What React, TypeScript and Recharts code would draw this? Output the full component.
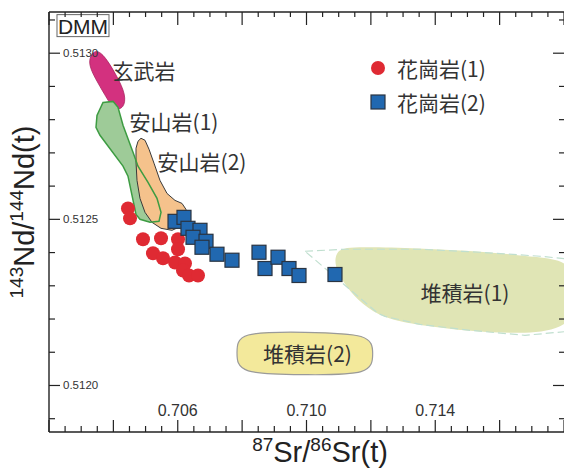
import React from 'react';
import { ScatterChart, Scatter, XAxis, YAxis, Legend } from 'recharts';

const xDomain: [number, number] = [0.702, 0.718];
const yDomain: [number, number] = [0.51186, 0.513124];

const xTicks = [0.702, 0.7025, 0.703, 0.7035, 0.704, 0.7045, 0.705, 0.7055, 0.706, 0.7065, 0.707, 0.7075, 0.708, 0.7085, 0.709, 0.7095, 0.71, 0.7105, 0.711, 0.7115, 0.712, 0.7125, 0.713, 0.7135, 0.714, 0.7145, 0.715, 0.7155, 0.716, 0.7165, 0.717, 0.7175, 0.718];
const xMajorTicks = [0.702, 0.704, 0.706, 0.708, 0.71, 0.712, 0.714, 0.716, 0.718];
const xTickLabels = ['0.706', '0.710', '0.714'];
const yTicks = [0.5119, 0.512, 0.5121, 0.5122, 0.5123, 0.5124, 0.5125, 0.5126, 0.5127, 0.5128, 0.5129, 0.513, 0.5131];
const yTickLabels = ['0.5120', '0.5125', '0.5130'];

// 花崗岩(1)
const granite1 = [
  { x: 0.704454, y: 0.512533 },
  { x: 0.704517, y: 0.512503 },
  { x: 0.70492, y: 0.51244 },
  { x: 0.70548, y: 0.512443 },
  { x: 0.706008, y: 0.51244 },
  { x: 0.706008, y: 0.51241 },
  { x: 0.705231, y: 0.512398 },
  { x: 0.705542, y: 0.512383 },
  { x: 0.705915, y: 0.51237 },
  { x: 0.706225, y: 0.512367 },
  { x: 0.706163, y: 0.512346 },
  { x: 0.70635, y: 0.512331 },
  { x: 0.706629, y: 0.512331 },
];

// 花崗岩(2)
const granite2 = [
  { x: 0.705915, y: 0.512494 },
  { x: 0.706194, y: 0.512506 },
  { x: 0.706318, y: 0.512473 },
  { x: 0.706691, y: 0.512467 },
  { x: 0.706474, y: 0.512446 },
  { x: 0.706878, y: 0.512434 },
  { x: 0.706753, y: 0.512416 },
  { x: 0.707219, y: 0.512395 },
  { x: 0.707685, y: 0.512377 },
  { x: 0.708524, y: 0.512401 },
  { x: 0.708711, y: 0.512352 },
  { x: 0.709115, y: 0.512386 },
  { x: 0.709456, y: 0.512352 },
  { x: 0.709767, y: 0.512331 },
  { x: 0.710885, y: 0.512334 },
];

// 玄武岩 field
const basaltField = [
  { x: 0.703274, y: 0.512991 },
  { x: 0.703460, y: 0.513012 },
  { x: 0.703740, y: 0.512991 },
  { x: 0.704113, y: 0.512931 },
  { x: 0.704392, y: 0.512874 },
  { x: 0.704330, y: 0.512834 },
  { x: 0.704019, y: 0.512828 },
  { x: 0.703740, y: 0.512874 },
  { x: 0.703429, y: 0.512925 },
  { x: 0.703243, y: 0.512964 },
];

// 安山岩(1) field
const andesite1Field = [
  { x: 0.703678, y: 0.512852 },
  { x: 0.703988, y: 0.512855 },
  { x: 0.704144, y: 0.512837 },
  { x: 0.704299, y: 0.512783 },
  { x: 0.70461, y: 0.512702 },
  { x: 0.704765, y: 0.51266 },
  { x: 0.705076, y: 0.512611 },
  { x: 0.705355, y: 0.512563 },
  { x: 0.70548, y: 0.512521 },
  { x: 0.705417, y: 0.512494 },
  { x: 0.705138, y: 0.512491 },
  { x: 0.704827, y: 0.5125 },
  { x: 0.704703, y: 0.512515 },
  { x: 0.704579, y: 0.512572 },
  { x: 0.704454, y: 0.51263 },
  { x: 0.704299, y: 0.51266 },
  { x: 0.703584, y: 0.512753 },
  { x: 0.70346, y: 0.512777 },
  { x: 0.703491, y: 0.512813 },
];

// 安山岩(2) field
const andesite2Field = [
  { x: 0.704858, y: 0.512744 },
  { x: 0.704983, y: 0.512738 },
  { x: 0.705107, y: 0.512711 },
  { x: 0.705262, y: 0.512669 },
  { x: 0.705449, y: 0.512617 },
  { x: 0.705666, y: 0.512578 },
  { x: 0.705915, y: 0.512557 },
  { x: 0.706132, y: 0.512548 },
  { x: 0.706256, y: 0.51253 },
  { x: 0.706256, y: 0.512503 },
  { x: 0.706101, y: 0.512479 },
  { x: 0.705821, y: 0.512467 },
  { x: 0.70548, y: 0.512473 },
  { x: 0.7052, y: 0.512491 },
  { x: 0.704983, y: 0.512521 },
  { x: 0.704827, y: 0.512563 },
  { x: 0.704734, y: 0.512617 },
  { x: 0.704703, y: 0.512672 },
  { x: 0.704703, y: 0.512714 },
  { x: 0.704765, y: 0.512735 },
];

// 堆積岩(1) field (fill) and its dashed outline
const sediment1Field = [
  { x: 0.710917, y: 0.512407 },
  { x: 0.711352, y: 0.512419 },
  { x: 0.713526, y: 0.512413 },
  { x: 0.71539, y: 0.512404 },
  { x: 0.717254, y: 0.512386 },
  { x: 0.718497, y: 0.51237 },
  { x: 0.718497, y: 0.512175 },
  { x: 0.716788, y: 0.512154 },
  { x: 0.71508, y: 0.512163 },
  { x: 0.713526, y: 0.512181 },
  { x: 0.712408, y: 0.512202 },
  { x: 0.711724, y: 0.512244 },
  { x: 0.711227, y: 0.512298 },
  { x: 0.710854, y: 0.512358 },
];
const sediment1Outline = [
  { x: 0.709953, y: 0.512404 },
  { x: 0.711196, y: 0.51241 },
  { x: 0.713526, y: 0.51241 },
  { x: 0.71539, y: 0.512401 },
  { x: 0.717254, y: 0.512389 },
  { x: 0.718497, y: 0.512377 },
  { x: 0.718497, y: 0.512166 },
  { x: 0.716788, y: 0.512151 },
  { x: 0.71508, y: 0.512166 },
  { x: 0.713526, y: 0.512184 },
  { x: 0.712439, y: 0.512208 },
  { x: 0.712221, y: 0.512217 },
];

// 堆積岩(2) field
const sediment2Field = [
  { x: 0.707841, y: 0.512163 },
  { x: 0.709953, y: 0.51216 },
  { x: 0.712035, y: 0.512157 },
  { x: 0.712066, y: 0.512096 },
  { x: 0.712035, y: 0.51203 },
  { x: 0.709953, y: 0.512033 },
  { x: 0.707841, y: 0.512033 },
  { x: 0.707841, y: 0.512099 },
];

const fieldLabels = [
  { x: 0.704951, y: 0.512949, text: '玄武岩' },
  { x: 0.705883, y: 0.512795, text: '安山岩(1)' },
  { x: 0.706753, y: 0.512675, text: '安山岩(2)' },
  { x: 0.714924, y: 0.51228, text: '堆積岩(1)' },
  { x: 0.710031, y: 0.512099, text: '堆積岩(2)' },
];
const dmmLabel = [{ x: 0.703056, y: 0.513083, text: 'DMM' }];

const legendItems = [
  { name: '花崗岩(1)', kind: 'circle' },
  { name: '花崗岩(2)', kind: 'square' },
];

const RED = '#df2a33';
const BLUE = '#2168b0';
const BLUE_EDGE = '#2a3442';
const AXIS = '#222';
const CJK = '"Noto Sans CJK JP", sans-serif';
const LATIN = '"Liberation Sans", Arial, sans-serif';

const near = (v: number, arr: number[]) => arr.some((m) => Math.abs(m - v) < 1e-7);
const xLabelOf = (v: number) => xTickLabels.find((s) => Math.abs(parseFloat(s) - v) < 1e-7);
const yLabelOf = (v: number) => yTickLabels.find((s) => Math.abs(parseFloat(s) - v) < 1e-8);

const BottomTick = (p: any) => {
  const v = p.payload.value;
  const major = near(v, xMajorTicks);
  const lab = xLabelOf(v);
  return (
    <g>
      <line x1={p.x} x2={p.x} y1={p.y} y2={p.y - (major ? 12 : 6)} stroke={AXIS} strokeWidth={1.2} />
      {lab && (
        <text x={p.x} y={p.y - 22} textAnchor="middle" dominantBaseline="central" fontSize={16} fill="#333" fontFamily={LATIN}>
          {lab}
        </text>
      )}
    </g>
  );
};
const TopTick = (p: any) => {
  const v = p.payload.value;
  const major = near(v, xMajorTicks);
  return <line x1={p.x} x2={p.x} y1={p.y} y2={p.y + (major ? 13 : 5)} stroke={AXIS} strokeWidth={1.2} />;
};
const LeftTick = (p: any) => {
  const v = p.payload.value;
  const lab = yLabelOf(v);
  return (
    <g>
      <line x1={p.x} x2={p.x + (lab ? 11 : 6)} y1={p.y} y2={p.y} stroke={AXIS} strokeWidth={1.2} />
      {lab && (
        <text x={p.x + 14} y={p.y} textAnchor="start" dominantBaseline="central" fontSize={11.5} fill="#333" fontFamily={LATIN}>
          {lab}
        </text>
      )}
    </g>
  );
};
const RightTick = (p: any) => {
  const v = p.payload.value;
  const lab = yLabelOf(v);
  return <line x1={p.x} x2={p.x - (lab ? 11 : 5)} y1={p.y} y2={p.y} stroke={AXIS} strokeWidth={1.2} />;
};

const NoPoint = () => <g />;
const RedDot = (p: any) => <circle cx={p.cx} cy={p.cy} r={7} fill={RED} />;
const BlueSquare = (p: any) => (
  <rect x={p.cx - 7} y={p.cy - 7} width={14} height={14} fill={BLUE} stroke={BLUE_EDGE} strokeWidth={1.2} />
);
const FieldLabel = (p: any) => (
  <text x={p.cx} y={p.cy} textAnchor="middle" dominantBaseline="central" fontSize={21} fill="#333" fontFamily={CJK}>
    {p.payload.text}
  </text>
);
const DmmBox = (p: any) => (
  <g>
    <rect x={p.cx - 26} y={p.cy - 11} width={52} height={22} fill="#fff" stroke="#666" strokeWidth={1} />
    <text x={p.cx} y={p.cy + 1} textAnchor="middle" dominantBaseline="central" fontSize={21} fill="#222" fontFamily={LATIN}>
      {p.payload.text}
    </text>
  </g>
);

const LegendContent = () => (
  <div style={{ fontFamily: CJK, fontSize: 21, color: '#333' }}>
    {legendItems.map((it) => (
      <div key={it.name} style={{ display: 'flex', alignItems: 'center', height: 34 }}>
        <svg width={20} height={20} style={{ marginRight: 9, flex: 'none' }}>
          {it.kind === 'circle' ? (
            <circle cx={10} cy={10} r={7} fill={RED} />
          ) : (
            <rect x={3} y={3} width={14} height={14} fill={BLUE} stroke={BLUE_EDGE} strokeWidth={1.2} />
          )}
        </svg>
        <span style={{ whiteSpace: 'nowrap' }}>{it.name}</span>
      </div>
    ))}
  </div>
);

export default function App() {
  return (
    <div style={{ position: 'absolute', left: 0, top: 0, width: 564, height: 468, background: '#fff', overflow: 'hidden' }}>
      <ScatterChart width={565} height={468} margin={{ top: 11, right: 0, bottom: 35, left: 48 }}>
        <XAxis
          xAxisId={0}
          type="number"
          dataKey="x"
          domain={xDomain}
          allowDataOverflow
          ticks={xTicks}
          interval={0}
          height={1}
          tickSize={0}
          tickMargin={0}
          tickLine={false}
          tick={BottomTick}
          axisLine={{ stroke: AXIS, strokeWidth: 1.4 }}
        />
        <XAxis
          xAxisId="top"
          orientation="top"
          type="number"
          dataKey="x"
          domain={xDomain}
          allowDataOverflow
          ticks={xTicks}
          interval={0}
          height={1}
          tickSize={0}
          tickMargin={0}
          tickLine={false}
          tick={TopTick}
          axisLine={{ stroke: AXIS, strokeWidth: 1.4 }}
        />
        <YAxis
          yAxisId={0}
          type="number"
          dataKey="y"
          domain={yDomain}
          allowDataOverflow
          ticks={yTicks}
          interval={0}
          width={1}
          tickSize={0}
          tickMargin={0}
          tickLine={false}
          tick={LeftTick}
          axisLine={{ stroke: AXIS, strokeWidth: 1.4 }}
        />
        <YAxis
          yAxisId="right"
          orientation="right"
          type="number"
          dataKey="y"
          domain={yDomain}
          allowDataOverflow
          ticks={yTicks}
          interval={0}
          width={1}
          tickSize={0}
          tickMargin={0}
          tickLine={false}
          tick={RightTick}
          axisLine={false}
        />

        <Scatter name="堆積岩(1)" data={sediment1Field} shape={NoPoint} line={{ fill: '#e0e5b5', stroke: 'none' }} lineJointType="basisClosed" legendType="none" isAnimationActive={false} />
        <Scatter name="堆積岩(1)枠" data={sediment1Outline} shape={NoPoint} line={{ fill: 'none', stroke: '#c0dfcf', strokeWidth: 1.2, strokeDasharray: '8 4' }} lineJointType="linearClosed" legendType="none" isAnimationActive={false} />
        <Scatter name="堆積岩(2)" data={sediment2Field} shape={NoPoint} line={{ fill: '#f3e99b', stroke: '#9a9a9a', strokeWidth: 1.2 }} lineJointType="basisClosed" legendType="none" isAnimationActive={false} />
        <Scatter name="玄武岩" data={basaltField} shape={NoPoint} line={{ fill: '#d3317f', stroke: '#a8235f', strokeWidth: 0.8 }} lineJointType="basisClosed" legendType="none" isAnimationActive={false} />
        <Scatter name="安山岩(1)" data={andesite1Field} shape={NoPoint} line={{ fill: '#9ecb98', stroke: 'none' }} lineJointType="linearClosed" legendType="none" isAnimationActive={false} />
        <Scatter name="安山岩(2)" data={andesite2Field} shape={NoPoint} line={{ fill: '#f5c28c', stroke: '#3a3a3a', strokeWidth: 1 }} lineJointType="linearClosed" legendType="none" isAnimationActive={false} />
        <Scatter name="安山岩(1)線" data={andesite1Field} shape={NoPoint} line={{ fill: 'none', stroke: '#3d9c42', strokeWidth: 1.5 }} lineJointType="linearClosed" legendType="none" isAnimationActive={false} />

        <Scatter name="花崗岩(1)" data={granite1} shape={RedDot} fill={RED} isAnimationActive={false} />
        <Scatter name="花崗岩(2)" data={granite2} shape={BlueSquare} fill={BLUE} isAnimationActive={false} />

        <Scatter name="labels" data={fieldLabels} shape={FieldLabel} legendType="none" isAnimationActive={false} />
        <Scatter name="DMM" data={dmmLabel} shape={DmmBox} legendType="none" isAnimationActive={false} />

        <Legend
          layout="vertical"
          align="center"
          verticalAlign="middle"
          wrapperStyle={{ left: 368, top: 51, width: 170, height: 70 }}
          content={LegendContent}
        />
      </ScatterChart>
      <svg width={564} height={468} style={{ position: 'absolute', left: 0, top: 0, pointerEvents: 'none' }}>
        <text x={320} y={462} textAnchor="middle" fontSize={29} fill="#222" fontFamily={LATIN}>
          <tspan fontSize={19} dy={-11}>87</tspan>
          <tspan dy={11}>Sr/</tspan>
          <tspan fontSize={19} dy={-11}>86</tspan>
          <tspan dy={11}>Sr(t)</tspan>
        </text>
        <text transform="translate(34,212) rotate(-90)" textAnchor="middle" fontSize={29} fill="#222" fontFamily={LATIN}>
          <tspan fontSize={19} dy={-11}>143</tspan>
          <tspan dy={11}>Nd/</tspan>
          <tspan fontSize={19} dy={-11}>144</tspan>
          <tspan dy={11}>Nd(t)</tspan>
        </text>
      </svg>
    </div>
  );
}
